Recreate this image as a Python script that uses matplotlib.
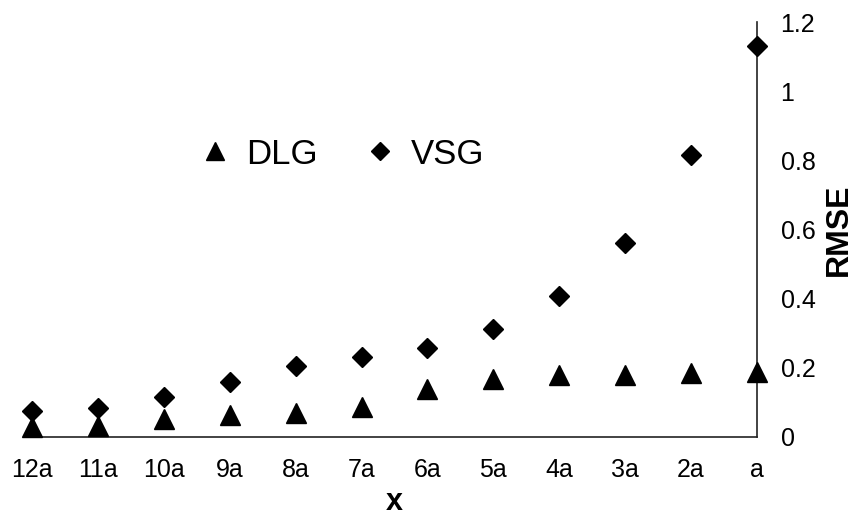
import matplotlib
matplotlib.use("Agg")
import matplotlib.pyplot as plt

plt.rcParams['font.family'] = ['Liberation Sans', 'DejaVu Sans']

categories = ["12a", "11a", "10a", "9a", "8a", "7a", "6a", "5a", "4a", "3a", "2a", "a"]
dlg = [0.030, 0.032, 0.052, 0.063, 0.069, 0.087, 0.140, 0.167, 0.179, 0.178, 0.185, 0.188]
vsg = [0.075, 0.084, 0.116, 0.159, 0.205, 0.231, 0.257, 0.312, 0.408, 0.561, 0.815, 1.131]
yticks = [0, 0.2, 0.4, 0.6, 0.8, 1.0, 1.2]
ytick_labels = ["0", "0.2", "0.4", "0.6", "0.8", "1", "1.2"]

fig = plt.figure(figsize=(8.61, 5.19), dpi=100)
ax = fig.add_axes([0.0372, 0.158, 0.842, 0.7996])

x = list(range(len(categories)))
ax.plot(x, dlg, linestyle='none', marker='^', markersize=15, color='black',
        label='DLG', clip_on=False, zorder=3)
ax.plot(x, vsg, linestyle='none', marker='D', markersize=10.5, color='black',
        label='VSG', clip_on=False, zorder=3)

ax.set_xlim(0, len(categories) - 1)
ax.set_ylim(0, 1.2)
ax.set_xticks(x)
ax.set_xticklabels(categories, fontsize=18)
ax.set_yticks(yticks)
ax.set_yticklabels(ytick_labels, fontsize=18)
ax.yaxis.tick_right()
ax.yaxis.set_label_position('right')
ax.tick_params(axis='both', length=0)
ax.tick_params(axis='x', pad=15)
ax.tick_params(axis='y', pad=17)

for s in ['top', 'left']:
    ax.spines[s].set_visible(False)
for s in ['bottom', 'right']:
    ax.spines[s].set_color('#222222')
    ax.spines[s].set_linewidth(1.2)

ax.set_xlabel('x', fontsize=22, fontweight='bold', labelpad=4)
ax.set_ylabel('RMSE', fontsize=23, fontweight='bold', labelpad=6)

fig.legend(loc='center', bbox_to_anchor=(0.396, 0.703), ncol=2, frameon=False,
           fontsize=25, markerscale=0.85, handlelength=1.0, handletextpad=0.4,
           columnspacing=1.3)

fig.savefig('out.png', dpi=100)
